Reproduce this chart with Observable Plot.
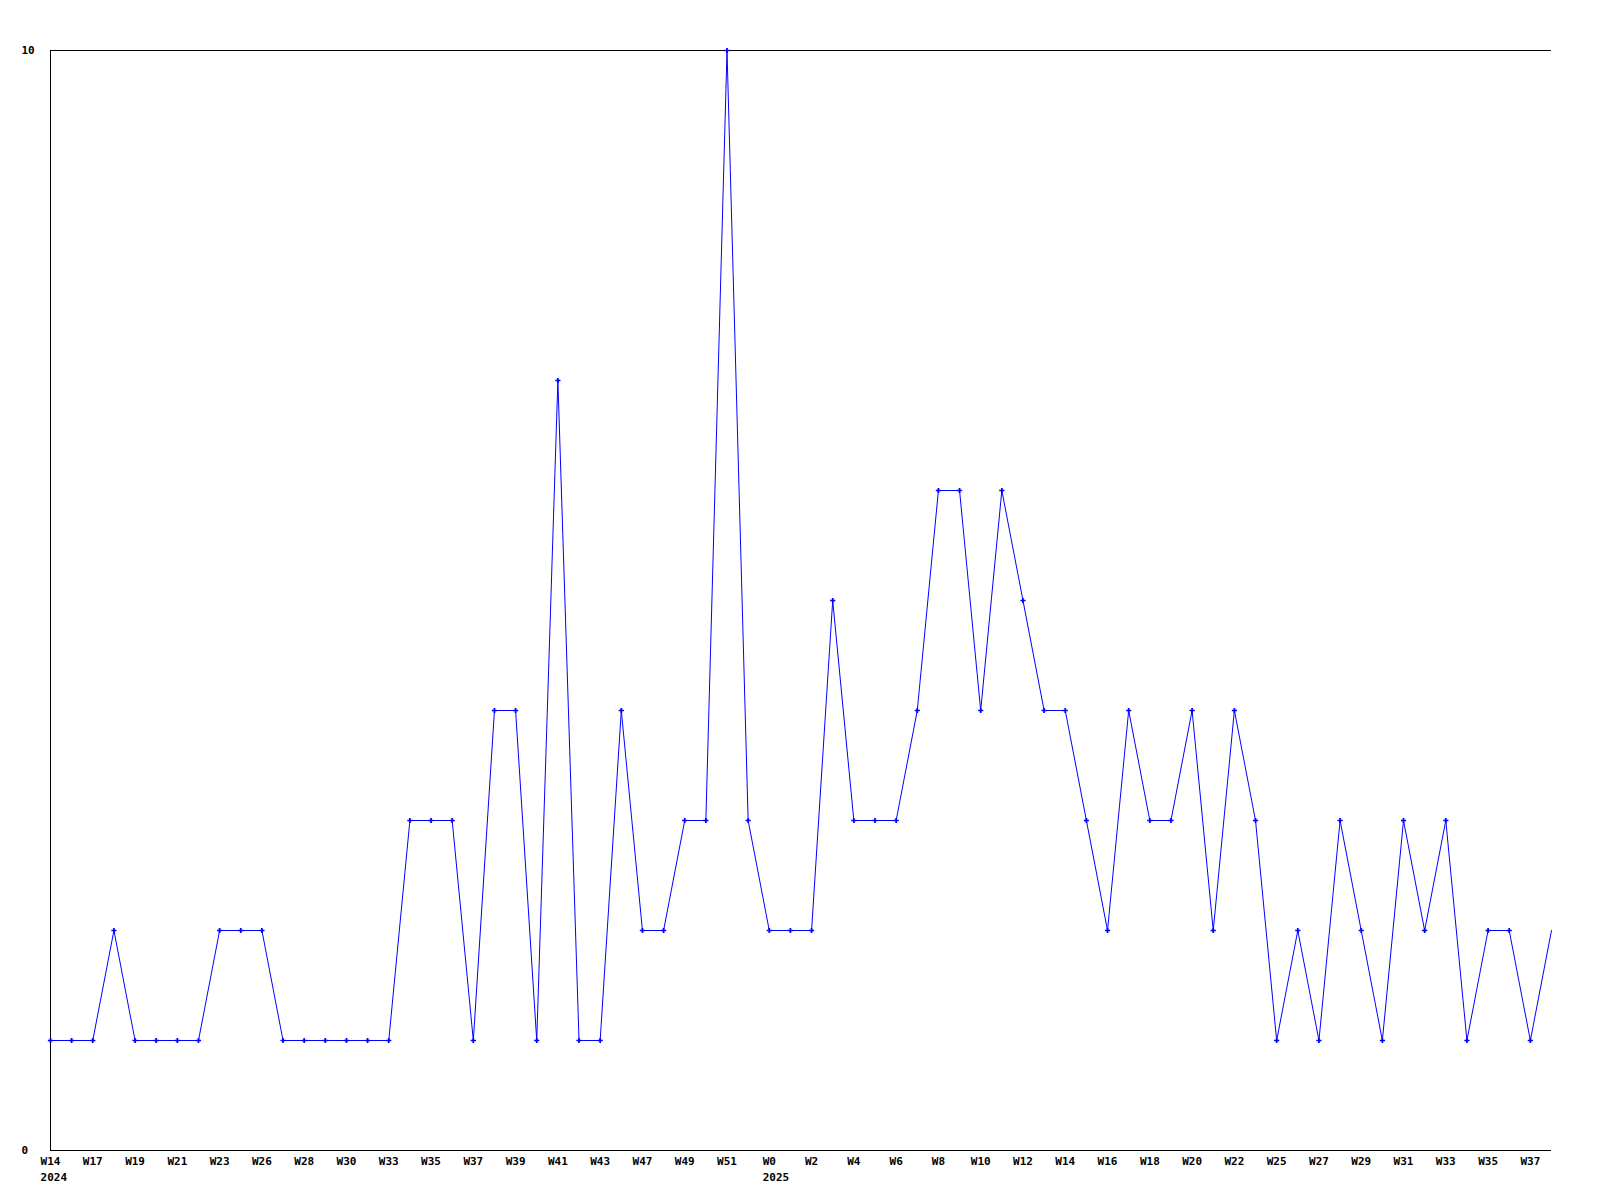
<!DOCTYPE html>
<html>
<head>
<meta charset="utf-8">
<script src="https://cdn.jsdelivr.net/npm/d3@7"></script>
<script src="https://cdn.jsdelivr.net/npm/@observablehq/plot@0.6"></script>
<style>
  html, body { margin: 0; padding: 0; background: #fff; }
  #chart svg { display: block; }
</style>
</head>
<body>
<div id="chart"></div>
<script>
// Weekly values (72 points)
const values = [
  1, 1, 1, 2, 1, 1, 1, 1, 2, 2,
  2, 1, 1, 1, 1, 1, 1, 3, 3, 3,
  1, 4, 4, 1, 7, 1, 1, 4, 2, 2,
  3, 3, 10, 3, 2, 2, 2, 5, 3, 3,
  3, 4, 6, 6, 4, 6, 5, 4, 4, 3,
  2, 4, 3, 3, 4, 2, 4, 3, 1, 2,
  1, 3, 2, 1, 3, 2, 3, 1, 2, 2,
  1, 2
];
// Tick labels at every second point
const tickLabels = [
  "W14", "W17", "W19", "W21", "W23", "W26", "W28", "W30", "W33", "W35",
  "W37", "W39", "W41", "W43", "W47", "W49", "W51", "W0", "W2", "W4",
  "W6", "W8", "W10", "W12", "W14", "W16", "W18", "W20", "W22", "W25",
  "W27", "W29", "W31", "W33", "W35", "W37"
];
const yearLabels = ["2024", "2025"];
const yearTickIndex = [0, 17];
const yTicks = [0, 10];

const points = values.map((v, i) => ({i, v}));
const markerPoints = points.slice(0, points.length - 1);
const tickIdx = tickLabels.map((_, k) => k * 2);

const FONT = "'DejaVu Sans Mono', monospace";
const CHARW = 6.6;

const yearMarks = yearLabels.map((yr, k) => {
  const lbl = tickLabels[yearTickIndex[k]];
  return Plot.text([{year: yr, i: yearTickIndex[k] * 2}], {
    x: "i",
    y: () => 0,
    text: "year",
    textAnchor: "start",
    lineAnchor: "middle",
    dy: 27,
    dx: -(lbl.length * CHARW) / 2,
    fill: "#000"
  });
});

const chart = Plot.plot({
  width: 1600,
  height: 1200,
  marginLeft: 50,
  marginRight: 49,
  marginTop: 50,
  marginBottom: 50,
  style: {fontFamily: FONT, fontSize: "11px", fontWeight: "bold", color: "#000", background: "#fff"},
  x: {type: "linear", domain: [0, values.length - 1]},
  y: {type: "linear", domain: [0, 10]},
  marks: [
    Plot.ruleY([10], {stroke: "#000", strokeWidth: 1}),
    Plot.ruleY([0], {stroke: "#000", strokeWidth: 1}),
    Plot.ruleX([0], {stroke: "#000", strokeWidth: 1}),
    Plot.axisY({
      ticks: yTicks,
      tickSize: 0,
      tickPadding: 3,
      textAnchor: "start",
      dx: -26,
      tickFormat: d => String(d),
      label: null,
      fill: "#000"
    }),
    Plot.axisX({
      ticks: tickIdx,
      tickSize: 0,
      tickPadding: 7,
      tickFormat: d => tickLabels[d / 2],
      label: null,
      fill: "#000"
    }),
    ...yearMarks,
    Plot.line(points, {x: "i", y: "v", stroke: "#0000ff", strokeWidth: 1}),
    Plot.dot(markerPoints, {x: "i", y: "v", symbol: "cross", r: 2.2, fill: "#0000ff", stroke: "none"})
  ]
});

document.getElementById("chart").appendChild(chart);
</script>
</body>
</html>
